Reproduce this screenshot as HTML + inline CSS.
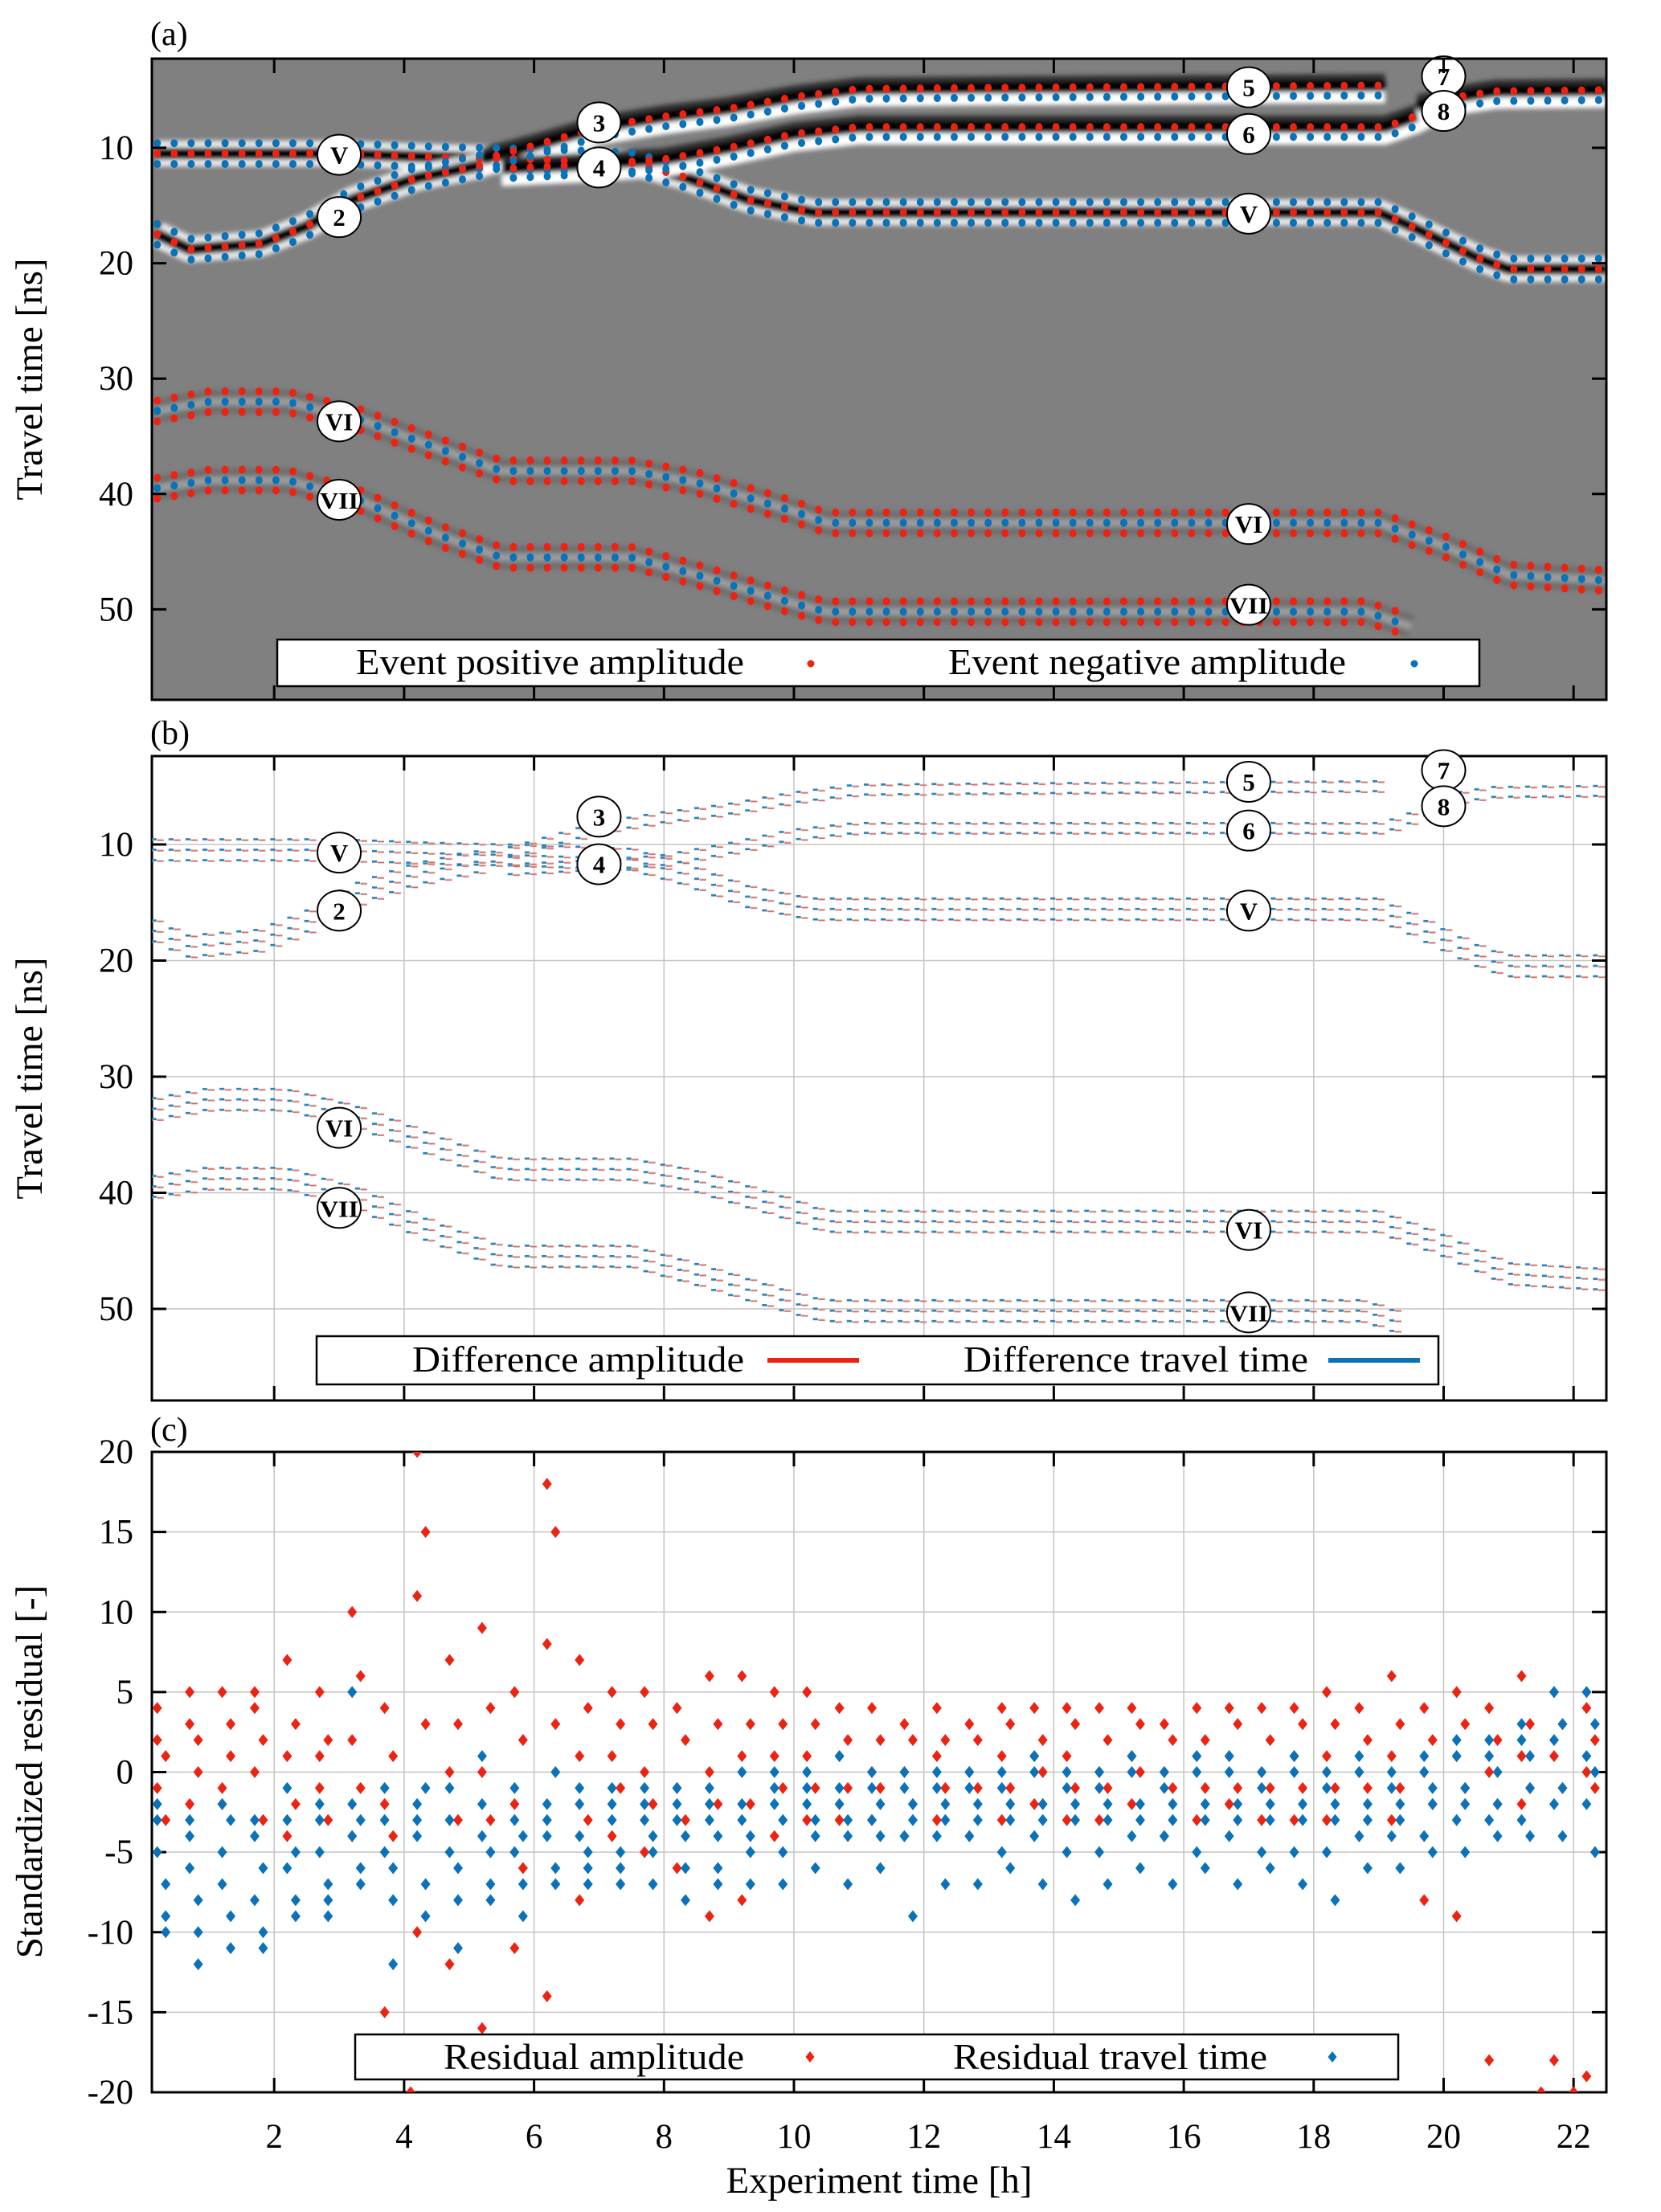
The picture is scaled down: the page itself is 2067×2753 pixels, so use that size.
<!DOCTYPE html>
<html><head><meta charset="utf-8">
<style>
html,body{margin:0;padding:0;background:#fff;}
svg{display:block;font-family:"Liberation Serif",serif;}
</style></head>
<body>
<svg id="fig" xmlns="http://www.w3.org/2000/svg" width="2067" height="2753" viewBox="0 0 2067 2753">
<defs>
<filter id="blur" x="-5%" y="-50%" width="110%" height="200%"><feGaussianBlur stdDeviation="3"/></filter>
<clipPath id="clipA"><rect x="189" y="73" width="1810" height="798"/></clipPath>
<clipPath id="clipB"><rect x="189" y="941" width="1810" height="802"/></clipPath>
<clipPath id="clipC"><rect x="189" y="1807" width="1810" height="797"/></clipPath>
</defs>
<g id="gA"></g>
<g id="gB"></g>
<g id="gC"></g>
</svg>
<script>
// ---------- data ----------
const xTicks = [2,4,6,8,10,12,14,16,18,20,22];
const yTicksNs = [10,20,30,40,50];
const yTicksRes = [20,15,10,5,0,-5,-10,-15,-20];
// event tracks: [hour, travel time ns]
const evV   = [[0.2,10.5],[3,10.5],[4.5,10.8],[6,11],[7.5,11.3],[8.3,12.5],[9.3,14.5],[10.3,15.6],[19,15.6],[19.5,16.8],[20.5,19.5],[21,20.5],[22.5,20.5]];
const ev2   = [[0.2,17.5],[0.7,18.8],[1.8,18.3],[2.5,16.8],[3.2,14.5],[4.2,12.6],[5.2,11.5]];
const ev35  = [[5.2,11.0],[6,9.8],[7,8.2],[8,7.3],[9,6.6],[10,5.6],[11,4.9],[13,4.8],[19.1,4.6]];
const ev46  = [[5.5,11.8],[7,11.4],[8,11],[9,10],[10,8.8],[11,8.2],[19.1,8.2],[19.6,7.2],[20.1,5.8]];
const ev78  = [[19.6,6.4],[20.2,5.6],[20.8,5.1],[22.5,5.0]];
const evVI  = [[0.2,32.8],[1,32],[2.2,32],[3.3,33.5],[4.5,36],[5.5,38],[7.5,38],[8.5,39],[10,41.5],[10.5,42.5],[19,42.5],[20,44.5],[21,47],[22.5,47.5]];
const evVII = [[0.2,39.5],[1,38.8],[2.2,38.8],[3.3,40.5],[4.5,43.5],[5.5,45.5],[7.5,45.5],[8.5,47],[10,49.5],[10.5,50.2],[18.8,50.2],[19.5,51.5]];
// labels: text, hour, ns(a), ns(b)
const lblText = ["V","2","3","4","5","6","V","7","8","VI","VII","VI","VII"];
const lblHour = [3,3,7,7,17,17,17,20,20,3,3,17,17];
const lblNsA  = [10.6,16.0,7.8,11.7,4.75,8.8,15.7,3.8,6.8,33.7,40.5,42.6,49.6];
const lblNsB  = [10.7,15.7,7.6,11.7,4.6,8.8,15.7,3.6,6.7,34.4,41.3,43.2,50.3];
// residuals (panel c)
const resHour = [0.2,0.7,1.2,1.7,2.2,2.7,3.2,3.7,4.2,4.7,5.2,5.7,6.2,6.7,7.2,7.7,8.2,8.7,9.2,9.7,10.2,10.7,11.2,11.7,12.2,12.7,13.2,13.7,14.2,14.7,15.2,15.7,16.2,16.7,17.2,17.7,18.2,18.7,19.2,19.7,20.2,20.7,21.2,21.7,22.2];
const resAmp = [
[4,1,-1,-3,2],[5,2,-2,0,3],[5,3,-2,1,-1],[5,2,0,-3,4],[7,3,1,-2,-4],[5,2,-1,-3,1],[10,6,2,-1,-4],[4,1,-2,-4,-15],
[20,15,11,3,-10],[7,3,0,-3,-12],[9,4,0,-3,-16],[5,2,-2,-6,-11],[18,15,8,3,-14],[7,4,1,-3,-8],[5,3,1,-1,-4],[5,3,0,-2,-5],
[4,2,-1,-3,-6],[6,3,0,-2,-9],[6,3,1,-2,-8],[5,3,1,-1,-4],[5,3,1,-1,-3],[4,2,1,-1,-3],[4,2,0,-1,-3],[3,2,0,-2,-4],
[4,2,1,-1,-3],[3,2,0,-1,-4],[4,3,1,-1,-3],[4,2,1,0,-2],[4,3,1,-1,-3],[4,2,0,-1,-3],[4,3,1,0,-2],[3,2,0,-1,-4],
[4,2,1,-1,-3],[4,3,1,-1,-2],[4,2,0,-1,-3],[4,3,1,-1,-3],[5,3,1,-1,-3],[4,2,0,-1,-4],[6,3,1,-1,-3],[4,2,0,-2,-8],
[5,3,1,-1,-9],[4,2,0,-2,-18],[6,3,1,-1,-2],[5,3,1,-1,-18],[4,2,0,-1,-19]];
const resTT = [
[-5,-9,-3,-7,-2,-10],[-6,-10,-4,-8,-3,-12],[-7,-11,-5,-9,-2,-3],[-8,-11,-4,-6,-3,-10],[-6,-9,-3,-8,-1,-5],[-5,-8,-2,-7,-3,-9],
[-4,-7,-2,-6,5,-3],[-5,-8,-3,-12,-1,-6],[-4,-9,-2,-7,-3,-1],[-5,-11,-3,-8,-1,-6],[-4,-8,-2,-7,1,-5],[-5,-9,-3,-7,-1,-4],
[-4,-7,-2,-6,-3,0],[-4,-7,-2,-5,-1,-6],[-3,-6,-1,-5,-2,-7],[-3,-7,-1,-5,-2,-4],[-3,-6,-1,-4,-2,-8],[-2,-6,-1,-4,-3,-7],
[-2,-5,0,-4,-3,-7],[-2,-5,0,-3,-1,-7],[-1,-4,0,-3,-2,-6],[-1,-4,1,-3,-2,-7],[-1,-4,0,-2,-3,-6],[-1,-3,0,-2,-4,-9],
[-1,-3,0,-2,-4,-7],[0,-3,-1,-2,-4,-7],[0,-2,-1,-3,-5,-6],[0,-2,1,-3,-4,-7],[0,-2,-1,-3,-5,-8],[0,-2,-1,-3,-5,-7],
[0,-2,1,-3,-4,-6],[-1,-2,0,-3,-4,-7],[0,-2,1,-3,-5,-6],[0,-2,1,-3,-4,-7],[0,-2,-1,-3,-5,-6],[0,-2,1,-3,-5,-7],
[0,-2,-1,-3,-5,-8],[0,-2,1,-3,-4,-6],[0,-2,-1,-3,-4,-6],[1,-1,0,-2,-4,-5],[1,-1,2,-2,-3,-5],[2,0,1,-2,-3,-4],
[3,1,2,-1,-3,-4],[5,3,2,-1,-2,-4],[5,3,1,0,-2,-5]];
const extraAmpHour = [4.1,21.5,22.0];
const extraAmpVal  = [-20,-20,-20];

// ---------- scales ----------
const NS='http://www.w3.org/2000/svg';
const L=189,R=1999;
const xS=h=>179.5+80.85*h;
const yA=v=>184+(v-10)*14.36;
const yB=v=>1051+(v-10)*14.45;
const yC=v=>1807+(20-v)*19.925;
function el(tag,attrs,parent){const e=document.createElementNS(NS,tag);for(const k in attrs){if(attrs[k]!==null)e.setAttribute(k,attrs[k]);}parent.appendChild(e);return e;}
function txt(s,attrs,parent){const e=el('text',attrs,parent);e.textContent=s;return e;}
function interp(track,h){if(h<track[0][0]||h>track[track.length-1][0])return null;for(let i=1;i<track.length;i++){if(h<=track[i][0]){const a=track[i-1],b=track[i];const t=(h-a[0])/(b[0]-a[0]||1);return a[1]+t*(b[1]-a[1]);}}return null;}
const cols=[];for(let h=0.2;h<=22.45;h+=0.261)cols.push(h);
const RED='#ee2211',BLUE='#0a72b8';

function frame(g,top,bot,yTicks,yf,gridlines){
  if(gridlines){
    xTicks.forEach(t=>{const l=el('line',{x1:xS(t),x2:xS(t),y1:top,y2:bot,stroke:'#c4c4c4','stroke-width':1.5},g);
      });
    yTicks.forEach(t=>{const l=el('line',{x1:L,x2:R,y1:yf(t),y2:yf(t),stroke:'#c4c4c4','stroke-width':1.5},g);
      });
  }
  xTicks.forEach(t=>{el('line',{x1:xS(t),x2:xS(t),y1:top,y2:top+18,stroke:'#000','stroke-width':3},g);el('line',{x1:xS(t),x2:xS(t),y1:bot,y2:bot-18,stroke:'#000','stroke-width':3},g);});
  yTicks.forEach(t=>{el('line',{x1:L,x2:L+18,y1:yf(t),y2:yf(t),stroke:'#000','stroke-width':3},g);el('line',{x1:R,x2:R-18,y1:yf(t),y2:yf(t),stroke:'#000','stroke-width':3},g);
    const tl=txt(String(t),{x:166,y:yf(t)+14,'font-size':43,'text-anchor':'end'},g);
    });
  const b=el('rect',{x:L,y:top,width:R-L,height:bot-top,fill:'none',stroke:'#000','stroke-width':3},g);
  
}
function circLabel(g,s,h,y){
  const c=el('g',{},g);
  
  
  el('ellipse',{cx:xS(h),cy:y,rx:27,ry:25,fill:'#fff',stroke:'#000','stroke-width':2},c);
  txt(s,{x:xS(h),y:y+11,'font-size':s.length>2?28:31,'font-weight':'bold','text-anchor':'middle',textLength:s.length>2?48:null,lengthAdjust:'spacingAndGlyphs'},c);
}
function legendBox(g,x,y,w,h,name){const r=el('rect',{x:x,y:y,width:w,height:h,fill:'#fff',stroke:'#000','stroke-width':2.5},g);
  }
function legText(g,s,x,y,w,name){const t=txt(s,{x:x,y:y,'font-size':45,textLength:w,lengthAdjust:'spacingAndGlyphs'},g);
  }

// ---------- panel A ----------
const gA=document.getElementById('gA');
txt('(a)',{x:187,y:56,'font-size':42},gA);
el('rect',{x:L,y:73,width:R-L,height:798,fill:'#808080'},gA);
const gAc=el('g',{'clip-path':'url(#clipA)'},gA);
const bands=el('g',{filter:'url(#blur)'},gAc);
function poly(track,off,yf){return track.map(p=>xS(p[0])+','+yf(p[1]+off)).join(' ');}
[evV,ev2].forEach(tr=>{
  el('polyline',{points:poly(tr,0,yA),fill:'none',stroke:'#fff','stroke-width':32,'stroke-linejoin':'round','stroke-opacity':0.85},bands);
  el('polyline',{points:poly(tr,0,yA),fill:'none',stroke:'#000','stroke-width':15,'stroke-linejoin':'round'},bands);
});
[ev35,ev46,ev78].forEach(tr=>{
  el('polyline',{points:poly(tr,-0.6,yA),fill:'none',stroke:'#333','stroke-width':12,'stroke-linejoin':'round'},bands);
  el('polyline',{points:poly(tr,0.9,yA),fill:'none',stroke:'#fff','stroke-width':18,'stroke-linejoin':'round'},bands);
  el('polyline',{points:poly(tr,0,yA),fill:'none',stroke:'#000','stroke-width':15,'stroke-linejoin':'round'},bands);
});
[evVI,evVII].forEach(tr=>{
  el('polyline',{points:poly(tr,0,yA),fill:'none',stroke:'#555','stroke-width':30,'stroke-linejoin':'round','stroke-opacity':0.4},bands);
  el('polyline',{points:poly(tr,0,yA),fill:'none',stroke:'#ccc','stroke-width':9,'stroke-linejoin':'round','stroke-opacity':0.5},bands);
});
const dots=el('g',{},gAc);
function dotEvent(tr,offs,colors,name){
  cols.forEach(h=>{const v=interp(tr,h);if(v===null)return;
    offs.forEach((o,i)=>{const d=el('ellipse',{cx:xS(h),cy:yA(v+o),rx:4.5,ry:5,fill:colors[i]},dots);
      });});
}
dotEvent(evV,[-0.9,0,0.9],[BLUE,RED,BLUE],'event-dot-V');
dotEvent(ev2,[-0.9,0,0.9],[BLUE,RED,BLUE],'event-dot-2');
dotEvent(ev35,[0,0.85],[RED,BLUE],'event-dot-3-5');
dotEvent(ev46,[0,0.85],[RED,BLUE],'event-dot-4-6');
dotEvent(ev78,[0,0.85],[RED,BLUE],'event-dot-7-8');
dotEvent(evVI,[-0.9,0,0.9],[RED,BLUE,RED],'event-dot-VI');
dotEvent(evVII,[-0.9,0,0.9],[RED,BLUE,RED],'event-dot-VII');
lblText.forEach((s,i)=>circLabel(gA,s,lblHour[i],yA(lblNsA[i])));
legendBox(gA,345,796,1496,58,'legend-a');
legText(gA,'Event positive amplitude',443,839,483,'legend-entry-positive');
el('circle',{cx:1009,cy:826,r:4.5,fill:RED},gA);
legText(gA,'Event negative amplitude',1180,839,495,'legend-entry-negative');
el('circle',{cx:1760,cy:826,r:4.5,fill:BLUE},gA);
frame(gA,73,871,yTicksNs,yA,false);
const ta=txt('Travel time [ns]',{x:0,y:0,'font-size':47,'text-anchor':'middle',transform:'translate(52,472) rotate(-90)'},gA);


// ---------- panel B ----------
const gB=document.getElementById('gB');
txt('(b)',{x:187,y:926,'font-size':42},gB);
frame(gB,941,1743,yTicksNs,yB,true);
const gBc=el('g',{'clip-path':'url(#clipB)'},gB);
function dashEvent(tr,offs,name){
  cols.forEach((h,ci)=>{const v=interp(tr,h);if(v===null)return;
    offs.forEach((o,i)=>{const x=xS(h)-7,y=yB(v+o);
      const g=el('g',{},gBc);
      
      
      el('line',{x1:x,x2:x+15,y1:y,y2:y,stroke:'#c8c8c8','stroke-width':2},g);
      el('line',{x1:x,x2:x+6,y1:y-0.8,y2:y-0.8,stroke:BLUE,'stroke-width':2.5,'stroke-opacity':0.85},g);
      el('line',{x1:x+7,x2:x+15,y1:y+0.8,y2:y+0.8,stroke:RED,'stroke-width':1.5,'stroke-opacity':0.6},g);});});
}
dashEvent(evV,[-0.9,0,0.9],'diff-dash-V');
dashEvent(ev2,[-0.9,0,0.9],'diff-dash-2');
dashEvent(ev35,[0,0.85],'diff-dash-3-5');
dashEvent(ev46,[0,0.85],'diff-dash-4-6');
dashEvent(ev78,[0,0.85],'diff-dash-7-8');
dashEvent(evVI,[-0.9,0,0.9],'diff-dash-VI');
dashEvent(evVII,[-0.9,0,0.9],'diff-dash-VII');
lblText.forEach((s,i)=>circLabel(gB,s,lblHour[i],yB(lblNsB[i])));
legendBox(gB,394,1663,1396,60,'legend-b');
legText(gB,'Difference amplitude',513,1707,413,'legend-entry-diff-amplitude');
el('line',{x1:955,x2:1069,y1:1693,y2:1693,stroke:RED,'stroke-width':6},gB);
legText(gB,'Difference travel time',1199,1707,429,'legend-entry-diff-travel-time');
el('line',{x1:1653,x2:1767,y1:1693,y2:1693,stroke:BLUE,'stroke-width':6},gB);
const tb=txt('Travel time [ns]',{x:0,y:0,'font-size':47,'text-anchor':'middle',transform:'translate(52,1342) rotate(-90)'},gB);


// ---------- panel C ----------
const gC=document.getElementById('gC');
txt('(c)',{x:187,y:1793,'font-size':42},gC);
frame(gC,1807,2604,yTicksRes,yC,true);
const gCc=el('g',{'clip-path':'url(#clipC)'},gC);
function diamond(h,v,color,name){
  const x=xS(h),y=yC(v);
  const p=el('polygon',{points:`${x},${y-7.5} ${x+6},${y} ${x},${y+7.5} ${x-6},${y}`,fill:color},gCc);
  
  
}
resHour.forEach((h,i)=>{
  resAmp[i].forEach((v,j)=>diamond(h+(j%2)*0.13,v,RED,'residual-amplitude-point'));
});
extraAmpHour.forEach((h,i)=>diamond(h,extraAmpVal[i],RED,'residual-amplitude-point'));
resHour.forEach((h,i)=>{
  resTT[i].forEach((v,j)=>diamond(h+(j%2)*0.13,v,BLUE,'residual-travel-time-point'));
});
legendBox(gC,442,2532,1298,56,'legend-c');
legText(gC,'Residual amplitude',552,2575,374,'legend-entry-residual-amplitude');
el('polygon',{points:'1008,2553 1013.5,2560 1008,2567 1002.5,2560',fill:RED},gC);
legText(gC,'Residual travel time',1186,2575,391,'legend-entry-residual-travel-time');
el('polygon',{points:'1658,2553 1663.5,2560 1658,2567 1652.5,2560',fill:BLUE},gC);
xTicks.forEach(t=>{const l=txt(String(t),{x:xS(t),y:2673,'font-size':43,'text-anchor':'middle'},gC);
  });
const tc=txt('Standardized residual [-]',{x:0,y:0,'font-size':47,'text-anchor':'middle',transform:'translate(52,2205) rotate(-90)'},gC);

const tx=txt('Experiment time [h]',{x:1094,y:2729,'font-size':47,'text-anchor':'middle'},gC);

</script>
</body></html>
